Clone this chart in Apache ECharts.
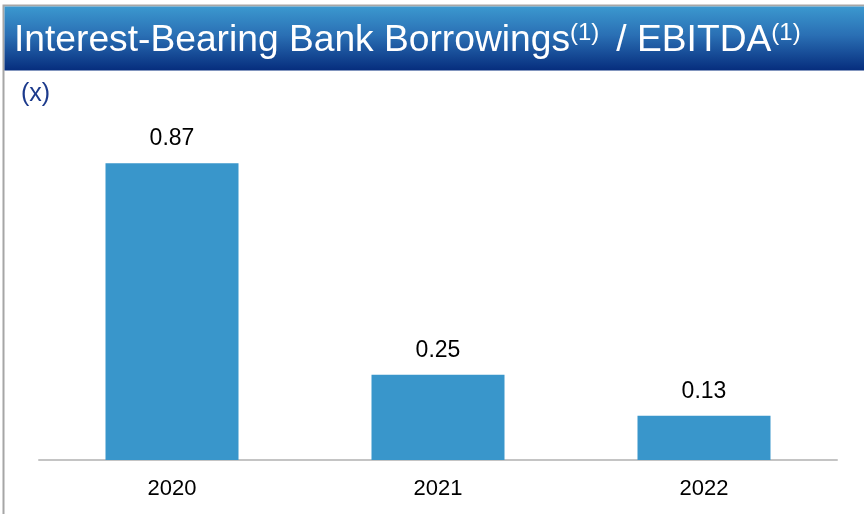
<!DOCTYPE html>
<html>
<head>
<meta charset="utf-8">
<script src="https://cdn.jsdelivr.net/npm/echarts@6/dist/echarts.min.js"></script>
<style>
  html, body { margin: 0; padding: 0; background: #ffffff; }
  #chart { width: 864px; height: 514px; }
</style>
</head>
<body>
<div id="chart"></div>
<script>
// Interest-bearing bank borrowings / EBITDA ratio by year
const years = ['2020', '2021', '2022'];
const ratios = [0.87, 0.25, 0.13];
const titleMain = 'Interest-Bearing Bank Borrowings';
const titleRest = ' / EBITDA';
const footnoteMark = '(1)';
const unitLabel = '(x)';

const FONT = 'Liberation Sans, Arial, sans-serif';
const chart = echarts.init(document.getElementById('chart'), null, { renderer: 'canvas' });

chart.setOption({
  backgroundColor: '#ffffff',
  animation: false,
  grid: { left: 39, right: 27, top: 119, bottom: 54, containLabel: false },
  xAxis: {
    type: 'category',
    data: years,
    axisLine: { show: true, lineStyle: { color: '#c4c4c4', width: 2 } },
    axisTick: { show: false },
    axisLabel: { color: '#000000', fontSize: 22, fontFamily: FONT, margin: 18 },
    splitLine: { show: false }
  },
  yAxis: { type: 'value', min: 0, max: 1, show: false },
  series: [{
    type: 'bar',
    data: ratios,
    barWidth: '50%',
    itemStyle: { color: '#3996cb' },
    label: {
      show: true,
      position: 'top',
      distance: 13,
      color: '#000000',
      fontSize: 23,
      fontFamily: FONT,
      formatter: (p) => p.value.toFixed(2)
    }
  }],
  graphic: [
    // outer frame (top and left edges visible)
    {
      type: 'rect',
      shape: { x: 3.5, y: 5.5, width: 880, height: 540 },
      style: { fill: 'none', stroke: '#a6a6a6', lineWidth: 2 },
      silent: true
    },
    // header band
    {
      type: 'rect',
      shape: { x: 4.5, y: 6.5, width: 860, height: 64 },
      style: {
        fill: new echarts.graphic.LinearGradient(0, 0, 0, 1, [
          { offset: 0, color: '#3b98cf' },
          { offset: 0.45, color: '#2a6fb4' },
          { offset: 1, color: '#062d7d' }
        ])
      },
      silent: true
    },
    {
      type: 'text',
      left: 14,
      top: 21,
      style: {
        text: '{m|' + titleMain + '}{s|' + footnoteMark + ' }{m|' + titleRest + '}{s|' + footnoteMark + '}',
        fill: '#ffffff',
        rich: {
          m: { fontSize: 37.2, lineHeight: 40, fill: '#ffffff', fontFamily: FONT, verticalAlign: 'middle' },
          s: { fontSize: 24, lineHeight: 26, fill: '#ffffff', fontFamily: FONT, verticalAlign: 'top' }
        }
      },
      silent: true
    },
    {
      type: 'text',
      left: 21,
      top: 82,
      style: { text: unitLabel, fontSize: 25, fill: '#1c3a8c', fontFamily: FONT },
      silent: true
    }
  ]
});
</script>
</body>
</html>
